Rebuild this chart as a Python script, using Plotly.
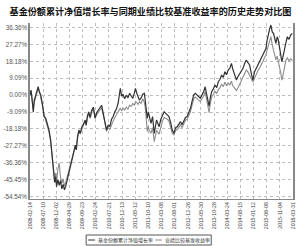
import plotly.graph_objects as go

# ---------------- data ----------------
title_text = "基金份额累计净值增长率与同期业绩比较基准收益率的历史走势对比图"
fund_name = "基金份额累计净值增长率"
bench_name = "业绩比较基准收益率"

day_index = [0, 8, 15, 25, 32, 42, 52, 62, 72, 82, 95, 107, 120, 132, 145, 157, 165, 172, 180, 187,
             195, 202, 212, 222, 232, 242, 252, 262, 272, 282, 295, 307, 320, 332, 345, 352, 362, 372, 382, 395,
             407, 420, 427, 437, 447, 457, 470, 482, 495, 507, 520, 532, 545, 557, 570, 582, 595, 607, 620, 632,
             645, 657, 670, 677, 687, 697, 707, 720, 732, 745, 757, 770, 782, 795, 802, 812, 822, 832, 845, 857,
             870, 877, 885, 892, 900, 907, 920, 932, 945, 962, 982, 995, 1007, 1020, 1032, 1045, 1057, 1070, 1082, 1095,
             1107, 1120, 1132, 1145, 1157, 1170, 1182, 1195, 1207, 1220, 1232, 1245, 1257, 1270, 1282, 1295, 1307, 1320, 1332, 1342,
             1352, 1362, 1372, 1382, 1395, 1407, 1420, 1432, 1445, 1457, 1470, 1482, 1495, 1507, 1520, 1532, 1542, 1552, 1562, 1570,
             1582, 1595, 1607, 1620, 1632, 1645, 1657, 1670, 1682, 1695, 1707, 1720, 1732, 1745, 1757, 1770, 1782, 1795, 1802, 1812,
             1822, 1832, 1842, 1852, 1862, 1870, 1880, 1887, 1897, 1907, 1915, 1922, 1932, 1945, 1957, 1970, 1982, 1995]

fund_values = [0.0, 2.7, -1.5, -9.0, -3.0, -0.5, 2.0, 4.5, 1.5, 0.0, -5.0, -11.6, -12.5, -15.2, -19.0, -24.2, -30.0, -36.7, -42.0, -47.0,
               -44.0, -49.3, -45.5, -48.5, -46.0, -50.5, -48.0, -51.0, -49.0, -45.7, -42.1, -38.0, -33.1, -31.0, -26.9, -29.5, -22.0, -18.8, -20.5, -17.0,
               -15.5, -13.4, -16.0, -11.0, -9.0, -12.0, -8.0, -6.5, -12.5, -9.5, -8.0, -7.0, -5.5, -9.8, -15.2, -18.8, -16.0, -17.0, -13.0, -11.5,
               -9.0, -7.5, -4.4, -1.0, 3.6, -0.5, 0.5, -2.0, 0.0, -1.5, 0.9, -0.5, -1.8, 1.5, 3.6, 1.0, -1.0, -2.7, -1.5, 0.5,
               0.9, -4.0, -10.0, -12.5, -9.0, -11.6, -15.2, -11.6, -20.6, -13.4, -17.0, -13.0, -10.7, -9.0, -9.8, -11.0, -11.6, -15.0, -18.8, -20.6,
               -17.5, -17.0, -15.5, -14.3, -16.0, -13.4, -12.0, -11.6, -9.5, -7.1, -3.5, 0.1, 1.0, 0.1, -1.0, -1.7, 0.0, 1.85, 4.5, 0.5,
               -2.6, -6.0, -1.0, 1.85, 3.5, 5.4, 4.0, 7.2, 8.5, 10.8, 9.5, 12.6, 11.0, 13.5, 14.5, 17.1, 14.0, 11.7, 9.5, 8.1,
               10.0, 11.7, 12.5, 14.4, 17.0, 18.9, 17.5, 16.2, 12.0, 8.1, 12.5, 14.4, 16.5, 18.0, 19.5, 21.6, 23.5, 25.2, 29.0, 33.2,
               35.5, 37.7, 34.0, 33.2, 29.5, 27.9, 31.4, 30.0, 26.0, 22.5, 18.0, 20.0, 24.3, 27.9, 31.4, 30.0, 32.3, 33.2]

bench_values = [0.0, 2.0, -2.5, -8.0, -4.0, -1.0, 1.0, 3.5, 2.0, -1.0, -6.0, -10.5, -13.5, -16.0, -20.0, -25.0, -31.0, -37.0, -41.0, -45.0,
                -42.0, -47.0, -40.0, -36.5, -44.0, -47.5, -45.0, -49.0, -47.0, -44.0, -41.0, -37.0, -33.5, -30.5, -27.5, -29.0, -23.0, -19.5, -21.0, -18.0,
                -16.0, -14.0, -16.5, -12.0, -10.0, -12.5, -9.0, -7.5, -12.0, -10.5, -9.0, -8.0, -7.0, -10.5, -15.0, -19.5, -17.5, -18.5, -15.5, -14.0,
                -12.0, -10.5, -9.0, -8.5, -7.0, -8.5, -7.0, -8.0, -6.5, -7.5, -5.5, -6.0, -4.5, -5.5, -3.5, -4.0, -5.0, -3.5, -4.5, -2.0,
                -4.0, -7.0, -14.0, -19.5, -17.0, -19.0, -20.5, -17.5, -25.0, -19.0, -21.0, -17.0, -14.0, -12.0, -12.5, -13.0, -14.0, -17.0, -20.5, -21.5,
                -19.0, -18.5, -17.0, -16.0, -17.5, -15.0, -13.5, -13.0, -11.0, -9.0, -5.5, -2.0, -1.0, -2.0, -3.0, -3.5, -2.0, -0.5, 2.0, -2.0,
                -5.0, -9.5, -4.0, -1.0, 0.5, 2.0, 1.0, 3.0, 4.0, 6.0, 4.5, 7.0, 5.0, 6.5, 5.5, 7.5, 5.0, 4.0, 3.0, 2.5,
                4.0, 6.0, 7.5, 9.0, 11.0, 13.5, 12.5, 11.0, 9.0, 7.0, 9.0, 11.5, 13.0, 14.5, 16.0, 18.0, 20.0, 21.5, 24.0, 27.0,
                29.0, 31.5, 27.0, 24.5, 22.0, 19.0, 21.0, 18.0, 15.0, 12.0, 8.0, 10.0, 14.0, 18.5, 20.0, 18.5, 19.5, 18.5]

x_tick_positions = [0, 100, 200, 300, 400, 500, 600, 700, 800, 900, 1000,
                    1100, 1200, 1300, 1400, 1500, 1600, 1700, 1800, 1900, 2000]
x_tick_labels = ["2008-02-14", "2008-07-10", "2008-12-02", "2009-04-29", "2009-09-23", "2010-02-24",
                 "2010-07-21", "2010-12-13", "2011-05-12", "2011-10-10", "2012-03-08", "2012-08-01",
                 "2012-12-26", "2013-05-30", "2013-10-28", "2014-03-24", "2014-08-15", "2015-01-12",
                 "2015-06-08", "2015-11-04", "2016-03-31"]
y_tick_values = [36.36, 27.27, 18.18, 9.09, 0.0, -9.09, -18.18, -27.27, -36.36, -45.45, -54.54]
y_tick_labels = ["36.36%", "27.27%", "18.18%", "9.09%", "0.00%", "-9.09%", "-18.18%", "-27.27%",
                 "-36.36%", "-45.45%", "-54.54%"]

# ---------------- figure ----------------
W, H = 300, 246
ML, MR, MT, MB = 29, 4, 23, 47
fund_color = "#333333"
bench_color = "#8c8c8c"

fig = go.Figure()
fig.add_trace(go.Scatter(x=day_index, y=bench_values, mode="lines", name=bench_name,
                         line=dict(color=bench_color, width=1.1), showlegend=False))
fig.add_trace(go.Scatter(x=day_index, y=fund_values, mode="lines", name=fund_name,
                         line=dict(color=fund_color, width=1.2), showlegend=False))


def px_x(p):
    return (p - ML) / (W - ML - MR)


def px_y(p):
    return (H - MB - p) / (H - MT - MB)


# custom legend
fig.add_shape(type="rect", xref="paper", yref="paper",
              x0=px_x(86), x1=px_x(213), y0=px_y(245), y1=px_y(235),
              line=dict(color="#555555", width=1), fillcolor="white")
for (lx0, lx1, tx, name, col) in [(88, 95, 96.5, fund_name, fund_color),
                                   (156, 163, 164, bench_name, bench_color)]:
    fig.add_shape(type="line", xref="paper", yref="paper",
                  x0=px_x(lx0), x1=px_x(lx1), y0=px_y(240), y1=px_y(240),
                  line=dict(color=col, width=1))
    fig.add_annotation(xref="paper", yref="paper", x=px_x(tx), y=px_y(240),
                       text=name, showarrow=False, xanchor="left", yanchor="middle",
                       font=dict(family="Noto Sans CJK SC", size=5, color="#333333"))

fig.update_layout(
    width=W, height=H,
    margin=dict(l=ML, r=MR, t=MT, b=MB, pad=0),
    paper_bgcolor="white", plot_bgcolor="white",
    title=dict(text="<b>" + title_text + "</b>", x=150.5 / W, xref="container", xanchor="center",
               y=1 - 12 / H, yref="container", yanchor="middle",
               font=dict(family="Noto Sans CJK SC", size=9.1, color="#111111")),
    showlegend=False,
)
fig.update_xaxes(range=[0, 2000], tickmode="array", tickvals=x_tick_positions, ticktext=x_tick_labels,
                 tickangle=-90, tickfont=dict(family="Liberation Sans", size=5.3, color="#444444"),
                 showgrid=True, gridcolor="#bdbdbd", griddash="dot", gridwidth=1,
                 showline=True, linecolor="#888888", linewidth=1, mirror=False,
                 ticks="", zeroline=False, fixedrange=True)
fig.update_yaxes(range=[-55.9, 38.8], tickmode="array", tickvals=y_tick_values, ticktext=y_tick_labels,
                 tickfont=dict(family="Liberation Sans", size=6.3, color="#555555"),
                 showgrid=True, gridcolor="#bdbdbd", griddash="dot", gridwidth=1,
                 showline=True, linecolor="#888888", linewidth=1.5, mirror=True,
                 ticks="", ticklen=0, zeroline=False, fixedrange=True)

fig.write_html("out.html")
